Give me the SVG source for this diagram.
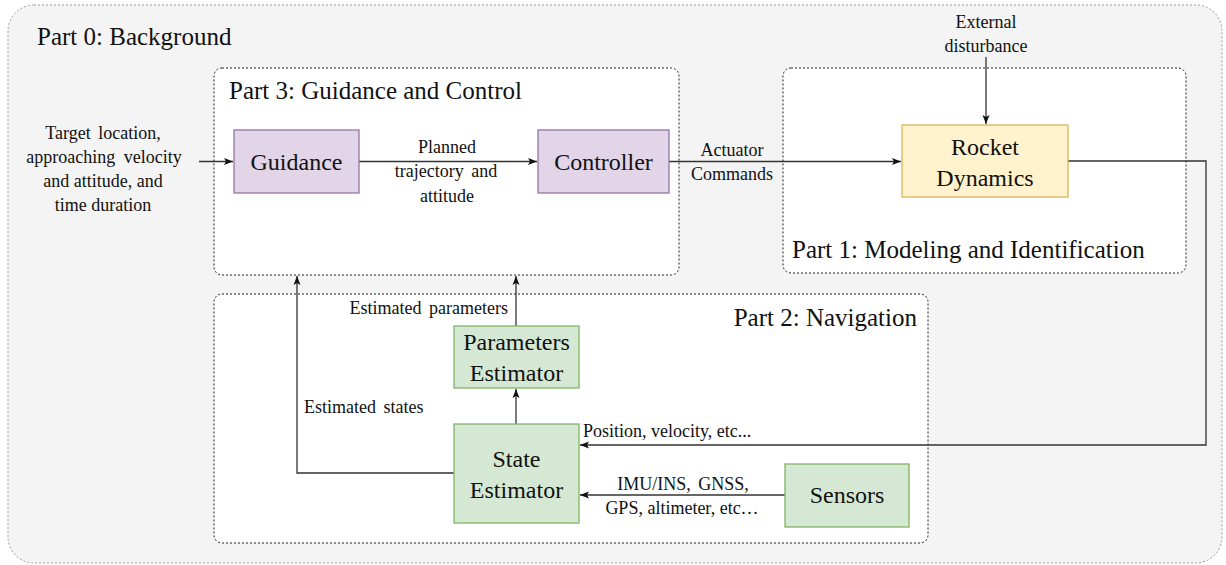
<svg xmlns="http://www.w3.org/2000/svg" width="1226" height="565" viewBox="0 0 1226 565">
<style>
.part{fill:#fff;stroke:#222;stroke-width:1;stroke-dasharray:2 2}
.pur{fill:#e1d5e7;stroke:#9673a6;stroke-width:1.3}
.yel{fill:#fff2cc;stroke:#d6b656;stroke-width:1.3}
.grn{fill:#d5e8d4;stroke:#82b366;stroke-width:1.3}
.e{fill:none;stroke:#333;stroke-width:1.3}
</style>
<defs>
<marker id="a" markerUnits="userSpaceOnUse" markerWidth="10" markerHeight="10" viewBox="0 0 10 10" refX="9" refY="5" orient="auto">
<path d="M0,1.5 L9,5 L0,8.5 L2,5 Z" fill="#111"/>
</marker>
</defs>
<g id="part0">
<rect x="8" y="5" width="1214" height="558" rx="26" fill="#f4f4f4" stroke="#999" stroke-width="1" stroke-dasharray="2 2"/>
<text font-family="Liberation Serif" font-size="25" fill="#111" x="37" y="45">Part 0: Background</text>
</g>
<g id="part3">
<rect class="part" x="214" y="68" width="465" height="207" rx="8"/>
<text font-family="Liberation Serif" font-size="25" fill="#111" x="229" y="99">Part 3: Guidance and Control</text>
</g>
<g id="part1">
<rect class="part" x="783" y="68" width="403" height="205" rx="8"/>
<text font-family="Liberation Serif" font-size="25" fill="#111" x="792" y="258">Part 1: Modeling and Identification</text>
</g>
<g id="part2">
<rect class="part" x="214" y="294" width="714" height="249" rx="8"/>
<text font-family="Liberation Serif" font-size="25" fill="#111" x="917" y="326" text-anchor="end">Part 2: Navigation</text>
</g>
<g id="connectors">
<path class="e" d="M199,161.5 H233" marker-end="url(#a)"/>
<path class="e" d="M359,161.5 H537" marker-end="url(#a)"/>
<path class="e" d="M669,161.5 H901" marker-end="url(#a)"/>
<path class="e" d="M986,57 V124" marker-end="url(#a)"/>
<path class="e" d="M1068,161 H1206 V445 H580" marker-end="url(#a)"/>
<path class="e" d="M785,495 H580" marker-end="url(#a)"/>
<path class="e" d="M516,424 V389" marker-end="url(#a)"/>
<path class="e" d="M516,326 V276" marker-end="url(#a)"/>
<path class="e" d="M454,473 H297 V276" marker-end="url(#a)"/>
<g font-family="Liberation Serif" font-size="18" fill="#111">
<text text-anchor="middle" x="103" y="139" word-spacing="3">Target location,</text>
<text text-anchor="middle" x="104" y="163" word-spacing="4">approaching velocity</text>
<text text-anchor="middle" x="103" y="187">and attitude, and</text>
<text text-anchor="middle" x="103" y="211">time duration</text>
<text text-anchor="middle" x="447" y="153">Planned</text>
<text text-anchor="middle" x="446" y="177" word-spacing="3">trajectory and</text>
<text text-anchor="middle" x="447" y="202">attitude</text>
<text text-anchor="middle" x="732" y="156">Actuator</text>
<text text-anchor="middle" x="732" y="180">Commands</text>
<text text-anchor="middle" x="986" y="28">External</text>
<text text-anchor="middle" x="986" y="52">disturbance</text>
<text x="583" y="437">Position, velocity, etc...</text>
<text text-anchor="middle" x="683" y="490" word-spacing="3">IMU/INS, GNSS,</text>
<text text-anchor="middle" x="682" y="514">GPS, altimeter, etc…</text>
<text x="508" y="314" text-anchor="end" word-spacing="3">Estimated parameters</text>
<text x="304" y="413" word-spacing="3">Estimated states</text>
</g>
</g>
<g id="guidance">
<rect class="pur" x="234" y="130" width="125" height="63"/>
<text font-family="Liberation Serif" font-size="24" fill="#111" text-anchor="middle" x="296.5" y="170">Guidance</text>
</g>
<g id="controller">
<rect class="pur" x="538" y="130" width="131" height="63"/>
<text font-family="Liberation Serif" font-size="24" fill="#111" text-anchor="middle" x="603.5" y="170">Controller</text>
</g>
<g id="rocket">
<rect class="yel" x="902" y="125" width="166" height="72"/>
<text font-family="Liberation Serif" font-size="24" fill="#111" text-anchor="middle" x="985" y="155">Rocket</text>
<text font-family="Liberation Serif" font-size="24" fill="#111" text-anchor="middle" x="985" y="186">Dynamics</text>
</g>
<g id="params">
<rect class="grn" x="454" y="326" width="125" height="62"/>
<text font-family="Liberation Serif" font-size="24" fill="#111" text-anchor="middle" x="516.5" y="350">Parameters</text>
<text font-family="Liberation Serif" font-size="24" fill="#111" text-anchor="middle" x="516.5" y="381">Estimator</text>
</g>
<g id="state">
<rect class="grn" x="454" y="424" width="125" height="99"/>
<text font-family="Liberation Serif" font-size="24" fill="#111" text-anchor="middle" x="516.5" y="467">State</text>
<text font-family="Liberation Serif" font-size="24" fill="#111" text-anchor="middle" x="516.5" y="498">Estimator</text>
</g>
<g id="sensors">
<rect class="grn" x="785" y="464" width="124" height="63"/>
<text font-family="Liberation Serif" font-size="24" fill="#111" text-anchor="middle" x="847" y="503">Sensors</text>
</g>
</svg>
